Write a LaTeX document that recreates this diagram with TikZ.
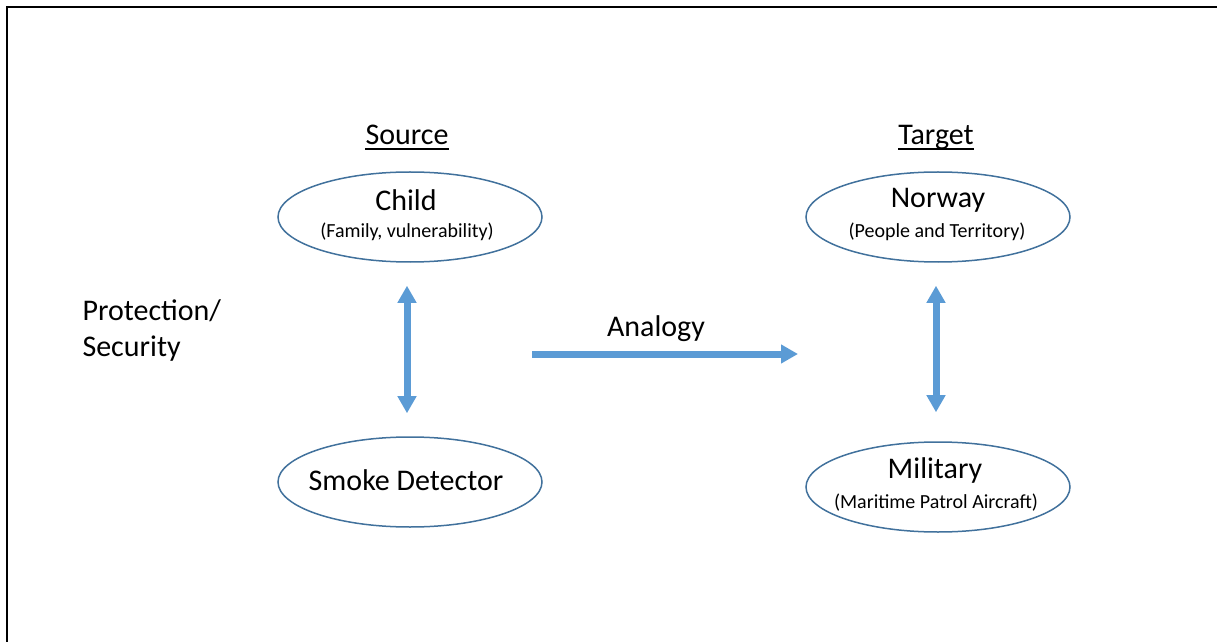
\documentclass[tikz,border=0pt]{standalone}
\usepackage{fontspec}
\setmainfont{Carlito}
\usetikzlibrary{arrows.meta,shapes.geometric}
\definecolor{arrowblue}{HTML}{5B9BD5}
\definecolor{ellblue}{HTML}{41719C}
\tikzset{
  oval/.style={ellipse, draw=ellblue, line width=1.5bp, minimum width=264bp, minimum height=90bp, inner sep=0pt, align=center},
  bigtext/.style={font=\fontsize{30bp}{36bp}\selectfont},
  smalltext/.style={font=\fontsize{20bp}{24bp}\selectfont},
  headtext/.style={font=\fontsize{30bp}{36bp}\selectfont, inner sep=0pt, anchor=base},
  uline/.style={line width=1.8bp},
  bluearrow/.style={draw=arrowblue, line width=7bp, -{Triangle[length=17bp,width=18bp]}},
  bluedouble/.style={draw=arrowblue, line width=7bp, {Triangle[length=17bp,width=18bp]}-{Triangle[length=17bp,width=18bp]}}
}
\begin{document}
\begin{tikzpicture}[x=1bp,y=-1bp]
\useasboundingbox (0,0) rectangle (1217,642);
\draw[line width=2.2bp] (7,650) -- (7,7) -- (1225,7);

\node[headtext] (source) at (407,145) {Source};
\node[headtext] (target) at (936,145) {Target};
\draw[uline] ([yshift=-4bp]source.base west) -- ([yshift=-4bp]source.base east);
\draw[uline] ([yshift=-4bp]target.base west) -- ([yshift=-4bp]target.base east);

\node[oval] (child) at (410,217) {};
\node[bigtext] (childt) at (406,200) {Child};
\node[smalltext] (childs) at (407,232) {(Family, vulnerability)};

\node[oval] (norway) at (938,217) {};
\node[bigtext] (norwayt) at (938,200) {Norway};
\node[smalltext] (norways) at (937,232) {(People and Territory)};

\node[oval] (smoke) at (410,482) {};
\node[bigtext] (smoket) at (406,480) {Smoke Detector};

\node[oval] (military) at (938,487) {};
\node[bigtext] (militaryt) at (935,471) {Military};
\node[smalltext] (militarys) at (936,503) {(Maritime Patrol Aircraft)};

\node[bigtext, anchor=west, align=left] (prot) at (79,331) {Protection/\\Security};

\node[bigtext] (analogy) at (656,329) {Analogy};
\coordinate (a1) at (532,354);
\coordinate (a2) at (798,354);
\draw[bluearrow] (a1) -- (a2);

\draw[bluedouble, shorten <=23bp, shorten >=23bp] ([xshift=-3bp]child.south) -- ([xshift=-3bp]smoke.north);
\draw[bluedouble, shorten <=23bp, shorten >=29bp] ([xshift=-2bp]norway.south) -- ([xshift=-2bp]military.north);
\end{tikzpicture}
\end{document}
